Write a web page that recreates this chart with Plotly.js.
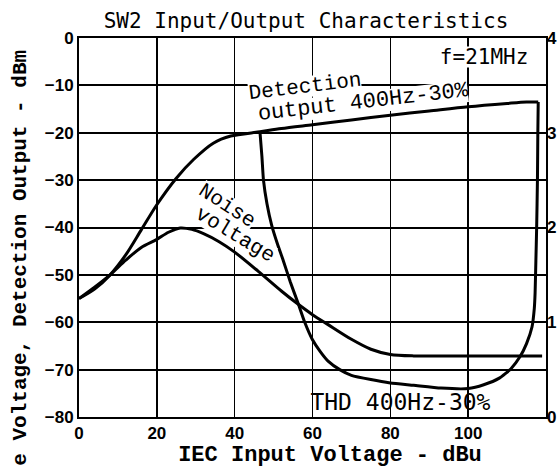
<!DOCTYPE html>
<html>
<head>
<meta charset="utf-8">
<script src="https://cdn.plot.ly/plotly-3.0.1.min.js"></script>
<style>
html,body{margin:0;padding:0;background:#fff;}
#wrap{position:relative;width:558px;height:466px;}
.lbl{position:absolute;white-space:nowrap;line-height:1;color:#000;pointer-events:none;}
.mono{font-family:'Liberation Mono','Courier New',monospace;}
.smono{font-family:'DejaVu Sans Mono',monospace;}
.bg{background:#fff;}
</style>
</head>
<body>
<div id="wrap">
<div id="chart" style="width:558px;height:466px;"></div>
</div>
<script>
// IEC input voltage (dBu) and detection output (dBm)
const detX = [0, 4, 8, 12, 16, 20, 25, 29.5, 34.5, 39, 46.5, 52, 60, 70, 80, 90, 100, 110, 115, 118];
const detY = [-55, -53, -50, -45.8, -40.5, -35.2, -29.6, -25.6, -22.2, -20.7, -19.8, -19.1, -18.3, -17.3, -16.3, -15.4, -14.5, -13.8, -13.5, -13.5];

// Noise voltage (dBm)
const noiseX = [0, 4, 8, 12, 16, 20, 23, 26, 29, 32, 36, 40, 46, 52, 56, 60, 64, 70, 75, 80, 86, 95, 119];
const noiseY = [-55, -52.6, -50, -46.9, -44.2, -42.5, -41, -40.1, -40.4, -41.3, -43, -45.2, -49.2, -53.4, -56, -58.4, -60.5, -63.6, -65.7, -66.8, -67.1, -67.1, -67.1];

// THD 400Hz-30% (%), right axis
const thdX = [46.5, 47, 47.4, 48.3, 49.5, 51, 52.5, 54.3, 56.3, 58, 60, 62, 64, 67, 70, 75, 80, 86, 93, 100, 104, 108, 111, 113.3, 115, 116.4, 117, 117.2, 117.4, 117.6, 117.8, 117.9, 118];
const thdY = [3.01, 2.75, 2.5, 2.25, 2.025, 1.825, 1.65, 1.425, 1.2, 1.0, 0.815, 0.69, 0.59, 0.5, 0.44, 0.395, 0.36, 0.335, 0.305, 0.30, 0.34, 0.41, 0.51, 0.635, 0.775, 0.95, 1.15, 1.31, 1.65, 2.0, 2.5, 3.0, 3.325];

const xTicks = [0, 20, 40, 60, 80, 100, 120];
const yTicks = [0, -10, -20, -30, -40, -50, -60, -70, -80];
const y2Ticks = [0, 1, 2, 3, 4];

// Texts of the chart
const chartTitle = 'SW2 Input/Output Characteristics';
const xTitle = 'IEC Input Voltage - dBu';
const yTitle = 'Noise Voltage, Detection Output - dBm';
const freqNote = 'f=21MHz';
const detLabel = ['Detection', 'output 400Hz-30%'];
const noiseLabel = ['Noise', 'voltage'];
const thdLabel = 'THD 400Hz-30%';

const lineStyle = {color: '#000', width: 3};
const traces = [
  {x: detX, y: detY, mode: 'lines', line: Object.assign({shape: 'spline', smoothing: 0.8}, lineStyle), name: 'Detection output', hoverinfo: 'skip'},
  {x: noiseX, y: noiseY, mode: 'lines', line: Object.assign({shape: 'spline', smoothing: 0.8}, lineStyle), name: 'Noise voltage', hoverinfo: 'skip'},
  {x: thdX, y: thdY, yaxis: 'y2', mode: 'lines', line: Object.assign({shape: 'spline', smoothing: 0.5}, lineStyle), name: 'THD', hoverinfo: 'skip'}
];

const tickFont = {family: 'Liberation Sans, Arial, sans-serif', size: 17, color: '#000', weight: 'bold'};

const layout = {
  width: 558, height: 466,
  margin: {l: 79, r: 12, t: 38, b: 49, pad: 0},
  paper_bgcolor: '#fff', plot_bgcolor: '#fff',
  showlegend: false,
  xaxis: {range: [0, 120], tickvals: xTicks, ticks: '', tickfont: tickFont, showgrid: true, gridcolor: '#000000', gridwidth: 1.6, zeroline: false,
          showline: true, linecolor: '#000', linewidth: 2, mirror: true},
  yaxis: {range: [-80, 0], tickvals: yTicks, ticks: '', tickfont: tickFont, showgrid: true, gridcolor: '#000000', gridwidth: 2, zeroline: false,
          showline: true, linecolor: '#000', linewidth: 2, mirror: true},
  yaxis2: {range: [0, 4], overlaying: 'y', side: 'right', tickvals: y2Ticks, ticks: '', tickfont: tickFont, showgrid: false, zeroline: false}
};

Plotly.newPlot('chart', traces, layout, {staticPlot: true}).then(function (gd) {
  const fl = gd._fullLayout;
  const xa = fl.xaxis, ya = fl.yaxis;
  const px = x => fl._size.l + xa.l2p(x);
  const py = y => fl._size.t + ya.l2p(y);
  const wrap = document.getElementById('wrap');
  function add(text, left, top, cls, size, angle, bold) {
    const d = document.createElement('div');
    d.className = 'lbl ' + cls;
    d.textContent = text;
    d.style.left = left + 'px';
    d.style.top = top + 'px';
    d.style.fontSize = size + 'px';
    if (bold) d.style.fontWeight = 'bold';
    d.style.transform = 'translate(-50%,-50%) rotate(' + (angle || 0) + 'deg)';
    wrap.appendChild(d);
  }
  add(chartTitle, 306, 21, 'smono', 21, 0, false);
  add(freqNote, px(104.1), py(-4.0), 'smono bg', 21, 0, false);
  add(detLabel[0], px(58.1), py(-10.4), 'mono bg', 21, -7, false);
  add(detLabel[1], px(73), py(-13.8), 'mono bg', 22, -6.5, false);
  add(noiseLabel[0], px(38), py(-35.5), 'mono bg', 21, 33, false);
  add(noiseLabel[1], px(40.1), py(-41.6), 'mono bg', 21, 31, false);
  add(thdLabel, px(82.6), py(-76.9), 'smono', 23, 0, false);
  add(xTitle, 330, 456, 'mono', 22, 0, true);
  add(yTitle, 20, 283, 'mono', 21, -90, true);
});
</script>
</body>
</html>
